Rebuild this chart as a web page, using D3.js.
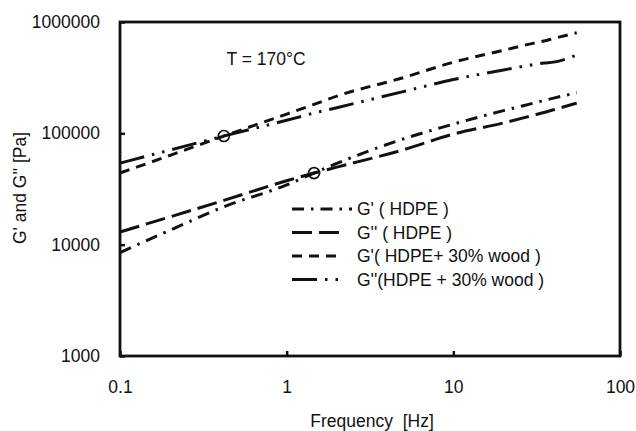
<!DOCTYPE html>
<html>
<head>
<meta charset="utf-8">
<script src="https://cdnjs.cloudflare.com/ajax/libs/d3/7.8.5/d3.min.js"></script>
<style>
  html, body { margin: 0; padding: 0; background: #fff; }
  svg { display: block; }
  text { font-family: "Liberation Sans", Arial, sans-serif; fill: #111; }
</style>
</head>
<body>
<svg id="chart" width="636" height="431"></svg>
<script>
// ---- data ----
const frequency = [0.1, 0.2, 0.42, 1, 1.46, 2, 5, 10, 20, 30, 35, 40, 55];
const gPrimeHDPE       = [8500, 13500, 21900, 34400, 44000, 53700, 88900, 121000, 160000, 186000, 197000, 207000, 232000];
const gDoublePrimeHDPE = [13000, 17800, 25000, 37500, 44000, 49700, 71100, 98400, 124000, 145000, 154000, 163000, 187000];
const gPrimeWood       = [44000, 63500, 94600, 149000, 182000, 216000, 316000, 435000, 557000, 643000, 675000, 711000, 800000];
const gDoublePrimeWood = [54000, 70800, 94600, 131000, 152000, 170000, 237000, 304000, 371000, 413000, 428000, 436000, 505000];
const seriesNames = ["G' ( HDPE )", "G'' ( HDPE )", "G'( HDPE+ 30% wood )", "G''(HDPE + 30% wood )"];
const crossoverFreq  = [0.42, 1.46];
const crossoverValue = [94600, 44000];
const xTicks = [0.1, 1, 10, 100];
const yTicks = [1000, 10000, 100000, 1000000];
const annotation = "T = 170°C";
const xTitle = "Frequency  [Hz]";
const yTitle = "G' and G'' [Pa]";

// ---- layout ----
const svg = d3.select("#chart");
const m = {left: 120, right: 620, top: 22, bottom: 356};
const x = d3.scaleLog().domain([0.1, 100]).range([m.left, m.right]);
const y = d3.scaleLog().domain([1000, 1000000]).range([m.bottom, m.top]);
const FS = 17.5;

const series = [
  {name: seriesNames[0], values: gPrimeHDPE,       dash: "12,7,2.5,7",        legendLen: 60},
  {name: seriesNames[1], values: gDoublePrimeHDPE, dash: "20,7",              legendLen: 50},
  {name: seriesNames[2], values: gPrimeWood,       dash: "10,7",              legendLen: 50},
  {name: seriesNames[3], values: gDoublePrimeWood, dash: "25,8,2.5,8,2.5,8",  legendLen: 50}
];

const line = d3.line()
  .x(d => x(d[0]))
  .y(d => y(d[1]))
  .curve(d3.curveMonotoneX);

// series lines
series.forEach(s => {
  svg.append("path")
    .datum(frequency.map((f, i) => [f, s.values[i]]))
    .attr("d", line)
    .attr("fill", "none")
    .attr("stroke", "#111")
    .attr("stroke-width", 3)
    .attr("stroke-dasharray", s.dash);
});

// crossover circles
svg.selectAll("circle.cross")
  .data(crossoverFreq.map((f, i) => [f, crossoverValue[i]]))
  .enter().append("circle")
  .attr("class", "cross")
  .attr("cx", d => x(d[0]))
  .attr("cy", d => y(d[1]))
  .attr("r", 5.5)
  .attr("fill", "#fff")
  .attr("fill-opacity", 0)
  .attr("stroke", "#111")
  .attr("stroke-width", 1.7);

// axes (ticks inside)
const xAxis = d3.axisBottom(x).tickValues(xTicks).tickFormat(d => String(d)).tickSize(-5).tickPadding(25);
const yAxis = d3.axisLeft(y).tickValues(yTicks).tickFormat(d => String(d)).tickSize(-5).tickPadding(20);

const gx = svg.append("g").attr("transform", `translate(0,${m.bottom})`).call(xAxis);
const gy = svg.append("g").attr("transform", `translate(${m.left},0)`).call(yAxis);
[gx, gy].forEach(g => {
  g.select(".domain").remove();
  g.selectAll(".tick line").attr("stroke", "#111").attr("stroke-width", 2.5);
  g.selectAll(".tick text").attr("font-size", FS).attr("fill", "#111")
    .style("font-family", "'Liberation Sans', Arial, sans-serif");
});

// frame
svg.append("rect")
  .attr("x", m.left).attr("y", m.top)
  .attr("width", m.right - m.left).attr("height", m.bottom - m.top)
  .attr("fill", "none").attr("stroke", "#111").attr("stroke-width", 2.8);

// annotation
svg.append("text").attr("x", 266).attr("y", 65).attr("text-anchor", "middle")
  .attr("font-size", FS).text(annotation);

// legend
const lg = svg.append("g");
series.forEach((s, i) => {
  const yy = 209 + i * 23.5;
  lg.append("line")
    .attr("x1", 292).attr("x2", 292 + s.legendLen)
    .attr("y1", yy).attr("y2", yy)
    .attr("stroke", "#111").attr("stroke-width", 3)
    .attr("stroke-dasharray", s.dash);
  lg.append("text").attr("x", 357).attr("y", yy + 6)
    .attr("font-size", FS).text(s.name);
});

// axis titles
svg.append("text").attr("x", 372).attr("y", 427).attr("text-anchor", "middle")
  .attr("font-size", FS).style("white-space", "pre").attr("xml:space", "preserve").text(xTitle);
svg.append("text").attr("transform", "translate(26,188) rotate(-90)")
  .attr("text-anchor", "middle").attr("font-size", FS).text(yTitle);
</script>
</body>
</html>
